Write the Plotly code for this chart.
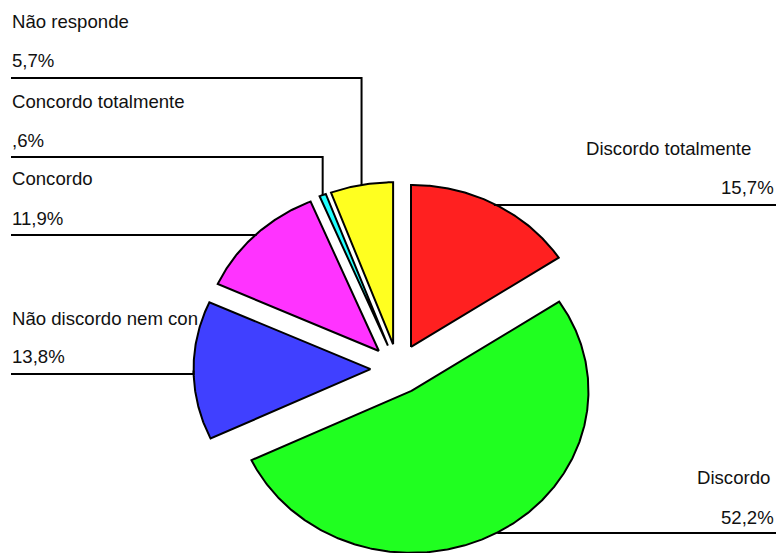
import numpy as np
import plotly.graph_objects as go

# Survey answers, percentage of respondents (clockwise from 12 o'clock)
categories = [
    "Discordo totalmente",
    "Discordo",
    "Não discordo nem con",
    "Concordo",
    "Concordo totalmente",
    "Não responde",
]
percentages = [15.7, 52.2, 13.8, 11.9, 0.6, 5.7]
slice_colors = ["#FF2020", "#20FF20", "#4040FF", "#FF33FF", "#20FFFF", "#FFFF20"]

# Canvas (axes run in pixels, y pointing down)
W, H = 776, 553
CX, CY = 398, 369        # pie centre
RX, RY = 177, 162        # elliptical radii (tilted pie)
PULL = 0.155             # explode distance as a fraction of the radius
FONT = dict(family="Liberation Sans, Arial, sans-serif", size=18.6, color="#111111")

# Label block for each slice: side, name x, value x, name y, value y, leader y
label_layout = [
    ("right", 753, 776, 148.5, 187.0, 205),
    ("right", 772, 776, 477.0, 517.0, 533),
    ("left", 10, 10, 318.0, 356.0, 374),
    ("left", 10, 10, 178.5, 218.5, 235),
    ("left", 10, 10, 101.0, 140.0, 157),
    ("left", 10, 10, 21.0, 60.0, 78),
]


def pct_text(v):
    s = f"{v:.1f}".replace(".", ",")
    if s.startswith("0,"):
        s = s[1:]
    return s + "%"


fig = go.Figure()

total = float(sum(percentages))
start = 0.0
anchors = []
for name, val, col in zip(categories, percentages, slice_colors):
    sweep = 360.0 * val / total
    a0, a1 = start, start + sweep
    start = a1
    mid = np.radians((a0 + a1) / 2.0)
    tipx = CX + PULL * RX * np.sin(mid)
    tipy = CY - PULL * RY * np.cos(mid)
    n = max(int(sweep * 2), 4)
    th = np.radians(np.linspace(a0, a1, n))
    xs = np.concatenate([[tipx], tipx + RX * np.sin(th), [tipx]])
    ys = np.concatenate([[tipy], tipy - RY * np.cos(th), [tipy]])
    fig.add_trace(go.Scatter(
        x=xs, y=ys, mode="lines", fill="toself", fillcolor=col,
        line=dict(color="black", width=2), hoverinfo="text",
        text=f"{name}: {pct_text(val)}", hoveron="fills",
    ))
    # point on the outer arc at the middle of the slice, where the leader ends
    anchors.append((tipx + RX * np.sin(mid), tipy - RY * np.cos(mid)))

annotations = []
for (name, val), (side, nx, vx, ny, vy, ly), (px, py) in zip(
        zip(categories, percentages), label_layout, anchors):
    edge = 11 if side == "left" else W
    fig.add_trace(go.Scatter(
        x=[edge, px, px], y=[ly, ly, py], mode="lines",
        line=dict(color="black", width=2), hoverinfo="skip",
    ))
    anchor = "left" if side == "left" else "right"
    annotations.append(dict(x=nx, y=ny, xref="x", yref="y", text=name,
                            showarrow=False, xanchor=anchor, yanchor="middle",
                            font=FONT))
    annotations.append(dict(x=vx, y=vy, xref="x", yref="y", text=pct_text(val),
                            showarrow=False, xanchor=anchor, yanchor="middle",
                            font=FONT))

fig.update_layout(
    width=W, height=H,
    margin=dict(l=0, r=0, t=0, b=0),
    paper_bgcolor="white", plot_bgcolor="white",
    showlegend=False,
    xaxis=dict(range=[0, W], visible=False, fixedrange=True),
    yaxis=dict(range=[H, 0], visible=False, fixedrange=True),
    annotations=annotations,
)

fig.write_html("out.html")
